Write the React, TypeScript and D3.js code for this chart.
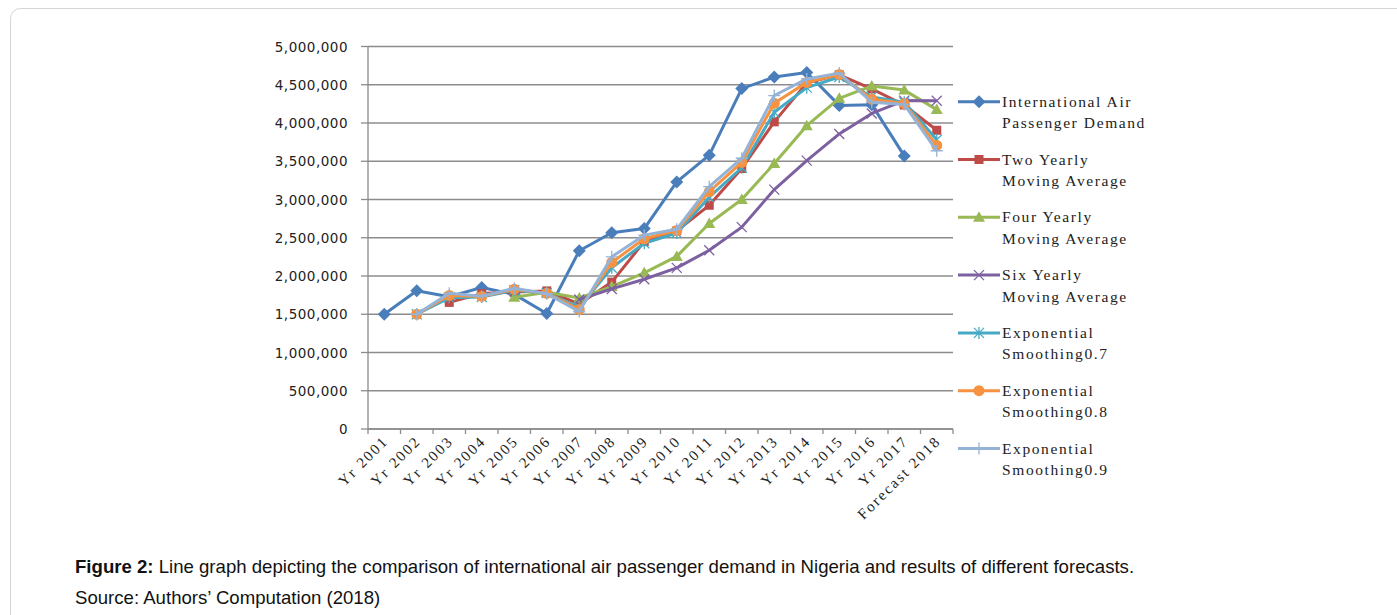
import React from "react";
import * as d3 from "d3";

const categories = ["Yr 2001","Yr 2002","Yr 2003","Yr 2004","Yr 2005","Yr 2006","Yr 2007","Yr 2008","Yr 2009","Yr 2010","Yr 2011","Yr 2012","Yr 2013","Yr 2014","Yr 2015","Yr 2016","Yr 2017","Forecast 2018"];

const actualDemand = [1500000,1807000,1730000,1850000,1760000,1510000,2330000,2565000,2620000,3230000,3580000,4450000,4600000,4660000,4230000,4240000,3570000,null];
const twoYearly = [null,null,1655000,1770000,1790000,1805000,1635000,1920000,2450000,2590000,2925000,3405000,4015000,4525000,4630000,4445000,4235000,3905000];
const fourYearly = [null,null,null,null,1722000,1787000,1712000,1862000,2041000,2256000,2686000,2999000,3470000,3965000,4322000,4485000,4430000,4175000];
const sixYearly = [null,null,null,null,null,null,1693000,1831000,1958000,2106000,2336000,2639000,3129000,3508000,3857000,4125000,4293000,4290000];
const exp07 = [null,1500000,1715000,1726000,1813000,1776000,1590000,2108000,2428000,2562000,3030000,3415000,4140000,4462000,4601000,4341000,4270000,3780000];
const exp08 = [null,1500000,1746000,1733000,1827000,1773000,1563000,2177000,2487000,2594000,3103000,3485000,4257000,4531000,4634000,4311000,4254000,3707000];
const exp09 = [null,1500000,1776000,1735000,1839000,1768000,1536000,2251000,2534000,2611000,3168000,3539000,4359000,4576000,4652000,4272000,4243000,3637000];

const yTicks = [0,500000,1000000,1500000,2000000,2500000,3000000,3500000,4000000,4500000,5000000];

const seriesNames = [
  ["International Air", "Passenger Demand"],
  ["Two Yearly", "Moving Average"],
  ["Four Yearly", "Moving Average"],
  ["Six Yearly", "Moving Average"],
  ["Exponential", "Smoothing0.7"],
  ["Exponential", "Smoothing0.8"],
  ["Exponential", "Smoothing0.9"],
];
const seriesValues = [actualDemand, twoYearly, fourYearly, sixYearly, exp07, exp08, exp09];
const seriesColors = ["#4A7EBB","#BE4B48","#98B954","#7D60A0","#46AAC5","#F69240","#95B3D7"];
const seriesMarkers = ["diamond","square","triangle","x","star","circle","plus"];

function Marker({ type, x, y, color }: { type: string; x: number; y: number; color: string }) {
  switch (type) {
    case "diamond":
      return <path d={`M${x},${y - 6.5}L${x + 6.5},${y}L${x},${y + 6.5}L${x - 6.5},${y}Z`} fill={color} />;
    case "square":
      return <rect x={x - 4.5} y={y - 4.5} width={9} height={9} fill={color} />;
    case "triangle":
      return <path d={`M${x},${y - 6}L${x + 6},${y + 4.5}L${x - 6},${y + 4.5}Z`} fill={color} />;
    case "x":
      return <path d={`M${x - 5},${y - 5}L${x + 5},${y + 5}M${x - 5},${y + 5}L${x + 5},${y - 5}`} stroke={color} strokeWidth={1.3} />;
    case "star":
      return <path d={`M${x - 5},${y - 5}L${x + 5},${y + 5}M${x - 5},${y + 5}L${x + 5},${y - 5}M${x},${y - 6}L${x},${y + 6}`} stroke={color} strokeWidth={1.3} />;
    case "circle":
      return <circle cx={x} cy={y} r={5.5} fill={color} />;
    case "plus":
      return <path d={`M${x - 6},${y}L${x + 6},${y}M${x},${y - 6}L${x},${y + 6}`} stroke={color} strokeWidth={1.3} />;
    default:
      return null;
  }
}

export default function App() {
  const W = 1397, H = 615;
  const x = d3.scaleBand<string>().domain(categories).range([368, 953]).padding(0);
  const y = d3.scaleLinear().domain([0, 5000000]).range([429, 46.5]);
  const cx = (c: string) => (x(c) as number) + x.bandwidth() / 2;
  const fmt = d3.format(",");
  const line = d3
    .line<number | null>()
    .defined((d) => d !== null)
    .x((_, i) => cx(categories[i]))
    .y((d) => y(d as number));

  const gridColor = "#8c8c8c";
  const serif = "'Liberation Serif', 'Times New Roman', serif";
  const sans = "'Liberation Sans', Arial, sans-serif";

  return (
    <svg width={W} height={H} style={{ position: "absolute", left: 0, top: 0, background: "#fff" }}>
      <rect x={10.5} y={8.5} width={1420} height={640} rx={10} fill="#fff" stroke="#d4d4d4" strokeWidth={1} />

      {/* gridlines */}
      {yTicks.map((t) => (
        <line key={"g" + t} x1={368} x2={953} y1={y(t)} y2={y(t)} stroke={gridColor} strokeWidth={1.3} />
      ))}
      {/* y axis */}
      <line x1={368} x2={368} y1={y(5000000)} y2={y(0)} stroke={gridColor} strokeWidth={1.3} />
      {yTicks.map((t) => (
        <g key={"yt" + t}>
          <line x1={361} x2={368} y1={y(t)} y2={y(t)} stroke={gridColor} strokeWidth={1.3} />
          <text x={348} y={y(t) + 5} textAnchor="end" fontFamily="'DejaVu Sans', Verdana, sans-serif" fontSize={13.5} letterSpacing={0.5} fill="#222">
            {fmt(t)}
          </text>
        </g>
      ))}
      {/* x axis */}
      <line x1={368} x2={953} y1={y(0)} y2={y(0)} stroke={gridColor} strokeWidth={1.3} />
      {d3.range(categories.length + 1).map((i) => {
        const xx = 368 + i * x.bandwidth();
        return <line key={"xt" + i} x1={xx} x2={xx} y1={y(0)} y2={y(0) + 5} stroke={gridColor} strokeWidth={1.3} />;
      })}
      {categories.map((c) => (
        <text
          key={"xl" + c}
          transform={`translate(${cx(c) + 5},${y(0) + 13}) rotate(-45)`}
          textAnchor="end"
          fontFamily={serif}
          fontSize={15}
          letterSpacing={2}
          fill="#222"
        >
          {c}
        </text>
      ))}

      {/* series */}
      {seriesValues.map((vals, si) => (
        <g key={"s" + si}>
          <path d={line(vals) || ""} fill="none" stroke={seriesColors[si]} strokeWidth={3} strokeLinejoin="round" />
          {vals.map((v, i) =>
            v === null ? null : (
              <Marker key={i} type={seriesMarkers[si]} x={cx(categories[i])} y={y(v)} color={seriesColors[si]} />
            )
          )}
        </g>
      ))}

      {/* legend */}
      {seriesNames.map((nm, i) => {
        const ly = 101.7 + i * 57.8;
        return (
          <g key={"lg" + i}>
            <line x1={958} x2={1000} y1={ly} y2={ly} stroke={seriesColors[i]} strokeWidth={3} />
            <Marker type={seriesMarkers[i]} x={979} y={ly} color={seriesColors[i]} />
            <text x={1002} y={ly + 5} fontFamily={serif} fontSize={15.5} letterSpacing={1.6} fill="#222">{nm[0]}</text>
            <text x={1002} y={ly + 26.5} fontFamily={serif} fontSize={15.5} letterSpacing={1.6} fill="#222">{nm[1]}</text>
          </g>
        );
      })}

      {/* caption */}
      <text x={75} y={573} fontFamily={sans} fontSize={18.6} fill="#111">
        <tspan fontWeight="bold">Figure 2:</tspan>
        <tspan> Line graph depicting the comparison of international air passenger demand in Nigeria and results of different forecasts.</tspan>
      </text>
      <text x={75} y={604} fontFamily={sans} fontSize={18.6} fill="#111">
        Source: Authors’ Computation (2018)
      </text>
    </svg>
  );
}
